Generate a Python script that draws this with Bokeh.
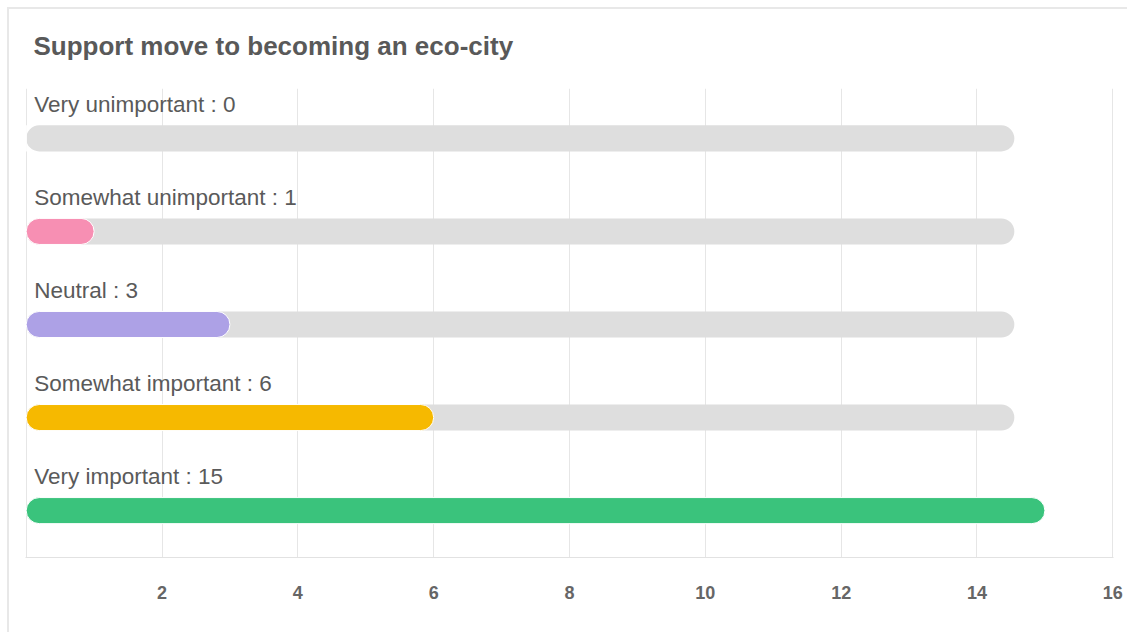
from bokeh.plotting import figure
from bokeh.models import FixedTicker, ColumnDataSource, InlineStyleSheet
from bokeh.core.properties import value
from bokeh.embed import file_html
from bokeh.resources import INLINE

# Survey answers, top row first
categories = ["Very unimportant", "Somewhat unimportant", "Neutral",
              "Somewhat important", "Very important"]
counts = [0, 1, 3, 6, 15]
bar_colors = ["#c9c9c9", "#f78fb3", "#ada1e6", "#f6b900", "#3ac37c"]
x_ticks = [2, 4, 6, 8, 10, 12, 14, 16]
track_end = 14.55
title_text = "Support move to becoming an eco-city"

rows = list(range(len(categories) - 1, -1, -1))
labels = [f"{c} : {n}" for c, n in zip(categories, counts)]

src = ColumnDataSource(dict(y=rows, count=counts, color=bar_colors,
                            label=labels, track=[track_end] * len(rows)))

p = figure(width=1127, height=632, x_range=(-0.01, 16.01), y_range=(-0.504, 4.536),
           toolbar_location=None, output_backend="svg",
           min_border_left=25, min_border_right=14,
           min_border_top=87, min_border_bottom=75,
           title=title_text)
p.outline_line_color = None
p.background_fill_color = "white"
p.border_fill_color = "white"
p.yaxis.visible = False
p.ygrid.grid_line_color = None

p.title.align = "left"
p.title.offset = 8
p.title.standoff = 56
p.title.text_font = "Liberation Sans"
p.title.text_font_style = "bold"
p.title.text_font_size = "26px"
p.title.text_color = "#595959"

p.xgrid.ticker = FixedTicker(ticks=[0] + x_ticks)
p.xgrid.grid_line_color = "#e6e6e6"
p.xgrid.grid_line_width = 1

ax = p.xaxis[0]
ax.ticker = FixedTicker(ticks=x_ticks)
ax.major_tick_line_color = None
ax.minor_tick_line_color = None
ax.axis_line_color = "#e2e2e2"
ax.axis_line_width = 1
ax.major_label_standoff = 22
ax.major_label_text_font = "Liberation Sans"
ax.major_label_text_font_style = "bold"
ax.major_label_text_font_size = "18px"
ax.major_label_text_color = "#666666"

# grey track behind each bar
p.hbar(y="y", left=0, right="track", height=0.28, source=src,
       fill_color="#dedede", line_color=None, border_radius=13)
# value bar
p.hbar(y="y", left=0, right="count", height=0.28, source=src,
       fill_color="color", line_color="white", line_width=1, border_radius=13)

p.text(x=0, y="y", text="label", source=src, x_offset=8, y_offset=-34,
       text_font=value("Liberation Sans"), text_font_size="22.5px",
       text_color="#5a5a5a", text_baseline="middle", text_align="left")

# card frame around the whole chart
p.stylesheets = [InlineStyleSheet(css="""
:host { position: relative; }
:host::after {
  content: ""; position: absolute; left: 7px; top: 7px;
  right: -20px; bottom: -20px;
  border: 2px solid #e8e8e8; pointer-events: none;
}
""")]

open("out.html", "w").write(file_html(p, INLINE))
